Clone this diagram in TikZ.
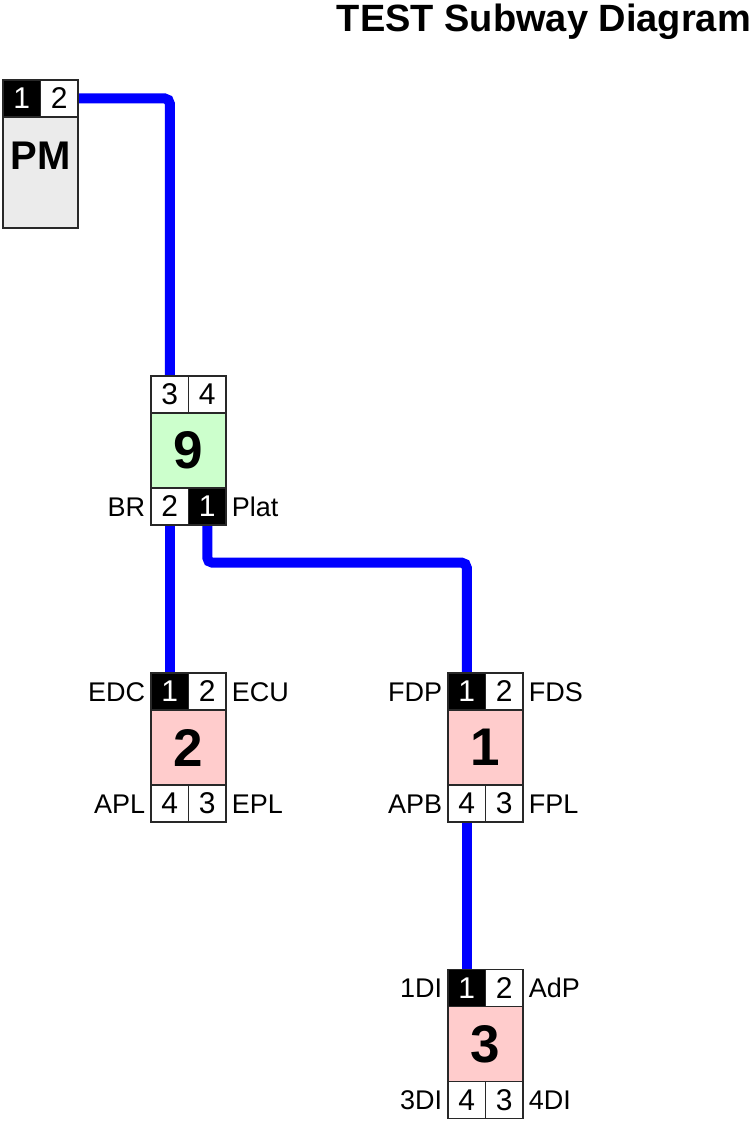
\documentclass[tikz,border=0pt]{standalone}
\usepackage{fontspec}
\setmainfont{Liberation Sans}
\usetikzlibrary{backgrounds}
\definecolor{metroblue}{RGB}{0,0,255}
\definecolor{bordercol}{RGB}{40,40,40}
\definecolor{pmgray}{RGB}{235,235,235}
\definecolor{stgreen}{RGB}{204,255,204}
\definecolor{stpink}{RGB}{255,204,204}
\tikzset{
  cellbox/.style={draw=bordercol, line width=1.3pt, fill=white, minimum width=37.5pt, minimum height=37pt, inner sep=0pt, font=\fontsize{30}{32}\selectfont},
  blkcell/.style={cellbox, fill=black, text=white},
  bodybox/.style={draw=bordercol, line width=1.3pt, minimum width=75pt, minimum height=75pt, inner sep=0pt, font=\bfseries\fontsize{53}{55}\selectfont},
  lblw/.style={anchor=east, inner sep=0pt, text height=19pt, text depth=0pt, font=\fontsize{27}{29}\selectfont, xshift=-5pt},
  lble/.style={anchor=west, inner sep=0pt, text height=19pt, text depth=0pt, font=\fontsize{27}{29}\selectfont, xshift=5pt},
  metro/.style={draw=metroblue, line width=10pt, rounded corners=5pt}
}
\begin{document}
\begin{tikzpicture}[x=1pt,y=-1pt]
\useasboundingbox (0,0) rectangle (753,1123);
% title
\node[anchor=base east, inner sep=0pt, font=\bfseries\fontsize{38}{40}\selectfont] (title) at (751,32) {TEST Subway Diagram};
% PM
\node[bodybox, fill=pmgray, minimum height=111pt] (pmbody) at (40.5,172.5) {};
\node[font=\bfseries\fontsize{40}{42}\selectfont, inner sep=0pt] (pmlbl) at (40.5,156) {PM};
\node[blkcell] (pm1) at (21.75,98.5) {1};
\node[cellbox] (pm2) at (59.25,98.5) {2};
% station 9
\node[cellbox] (b9c3) at (169.75,394.5) {3};
\node[cellbox] (b9c4) at (207.25,394.5) {4};
\node[bodybox, fill=stgreen] (b9) at (188.5,450.5) {9};
\node[cellbox] (b9c2) at (169.75,506.5) {2};
\node[blkcell] (b9c1) at (207.25,506.5) {1};
\node[lblw] (l9a) at (b9c2.west) {BR};
\node[lble] (l9b) at (b9c1.east) {Plat};
% station 2
\node[blkcell] (b2c1) at (169.75,691.5) {1};
\node[cellbox] (b2c2) at (207.25,691.5) {2};
\node[bodybox, fill=stpink] (b2) at (188.5,747.5) {2};
\node[cellbox] (b2c4) at (169.75,803.5) {4};
\node[cellbox] (b2c3) at (207.25,803.5) {3};
\node[lblw] (l2a) at (b2c1.west) {EDC};
\node[lble] (l2b) at (b2c2.east) {ECU};
\node[lblw] (l2c) at (b2c4.west) {APL};
\node[lble] (l2d) at (b2c3.east) {EPL};
% station 1
\node[blkcell] (b1c1) at (466.75,691.5) {1};
\node[cellbox] (b1c2) at (504.25,691.5) {2};
\node[bodybox, fill=stpink] (b1) at (485.5,747.5) {1};
\node[cellbox] (b1c4) at (466.75,803.5) {4};
\node[cellbox] (b1c3) at (504.25,803.5) {3};
\node[lblw] (l1a) at (b1c1.west) {FDP};
\node[lble] (l1b) at (b1c2.east) {FDS};
\node[lblw] (l1c) at (b1c4.west) {APB};
\node[lble] (l1d) at (b1c3.east) {FPL};
% station 3
\node[blkcell] (b3c1) at (466.75,988) {1};
\node[cellbox] (b3c2) at (504.25,988) {2};
\node[bodybox, fill=stpink] (b3) at (485.5,1044) {3};
\node[cellbox] (b3c4) at (466.75,1100) {4};
\node[cellbox] (b3c3) at (504.25,1100) {3};
\node[lblw] (l3a) at (b3c1.west) {1DI};
\node[lble] (l3b) at (b3c2.east) {AdP};
\node[lblw] (l3c) at (b3c4.west) {3DI};
\node[lble] (l3d) at (b3c3.east) {4DI};
% lines
\begin{pgfonlayer}{background}
\draw[metro] (pm2.east) -| (b9c3.north);
\draw[metro] (b9c2.south) -- (b2c1.north);
\draw[metro] (b9c1.south) -- ++(0,37) -| (b1c1.north);
\draw[metro] (b1c4.south) -- (b3c1.north);
\end{pgfonlayer}
\end{tikzpicture}
\end{document}
